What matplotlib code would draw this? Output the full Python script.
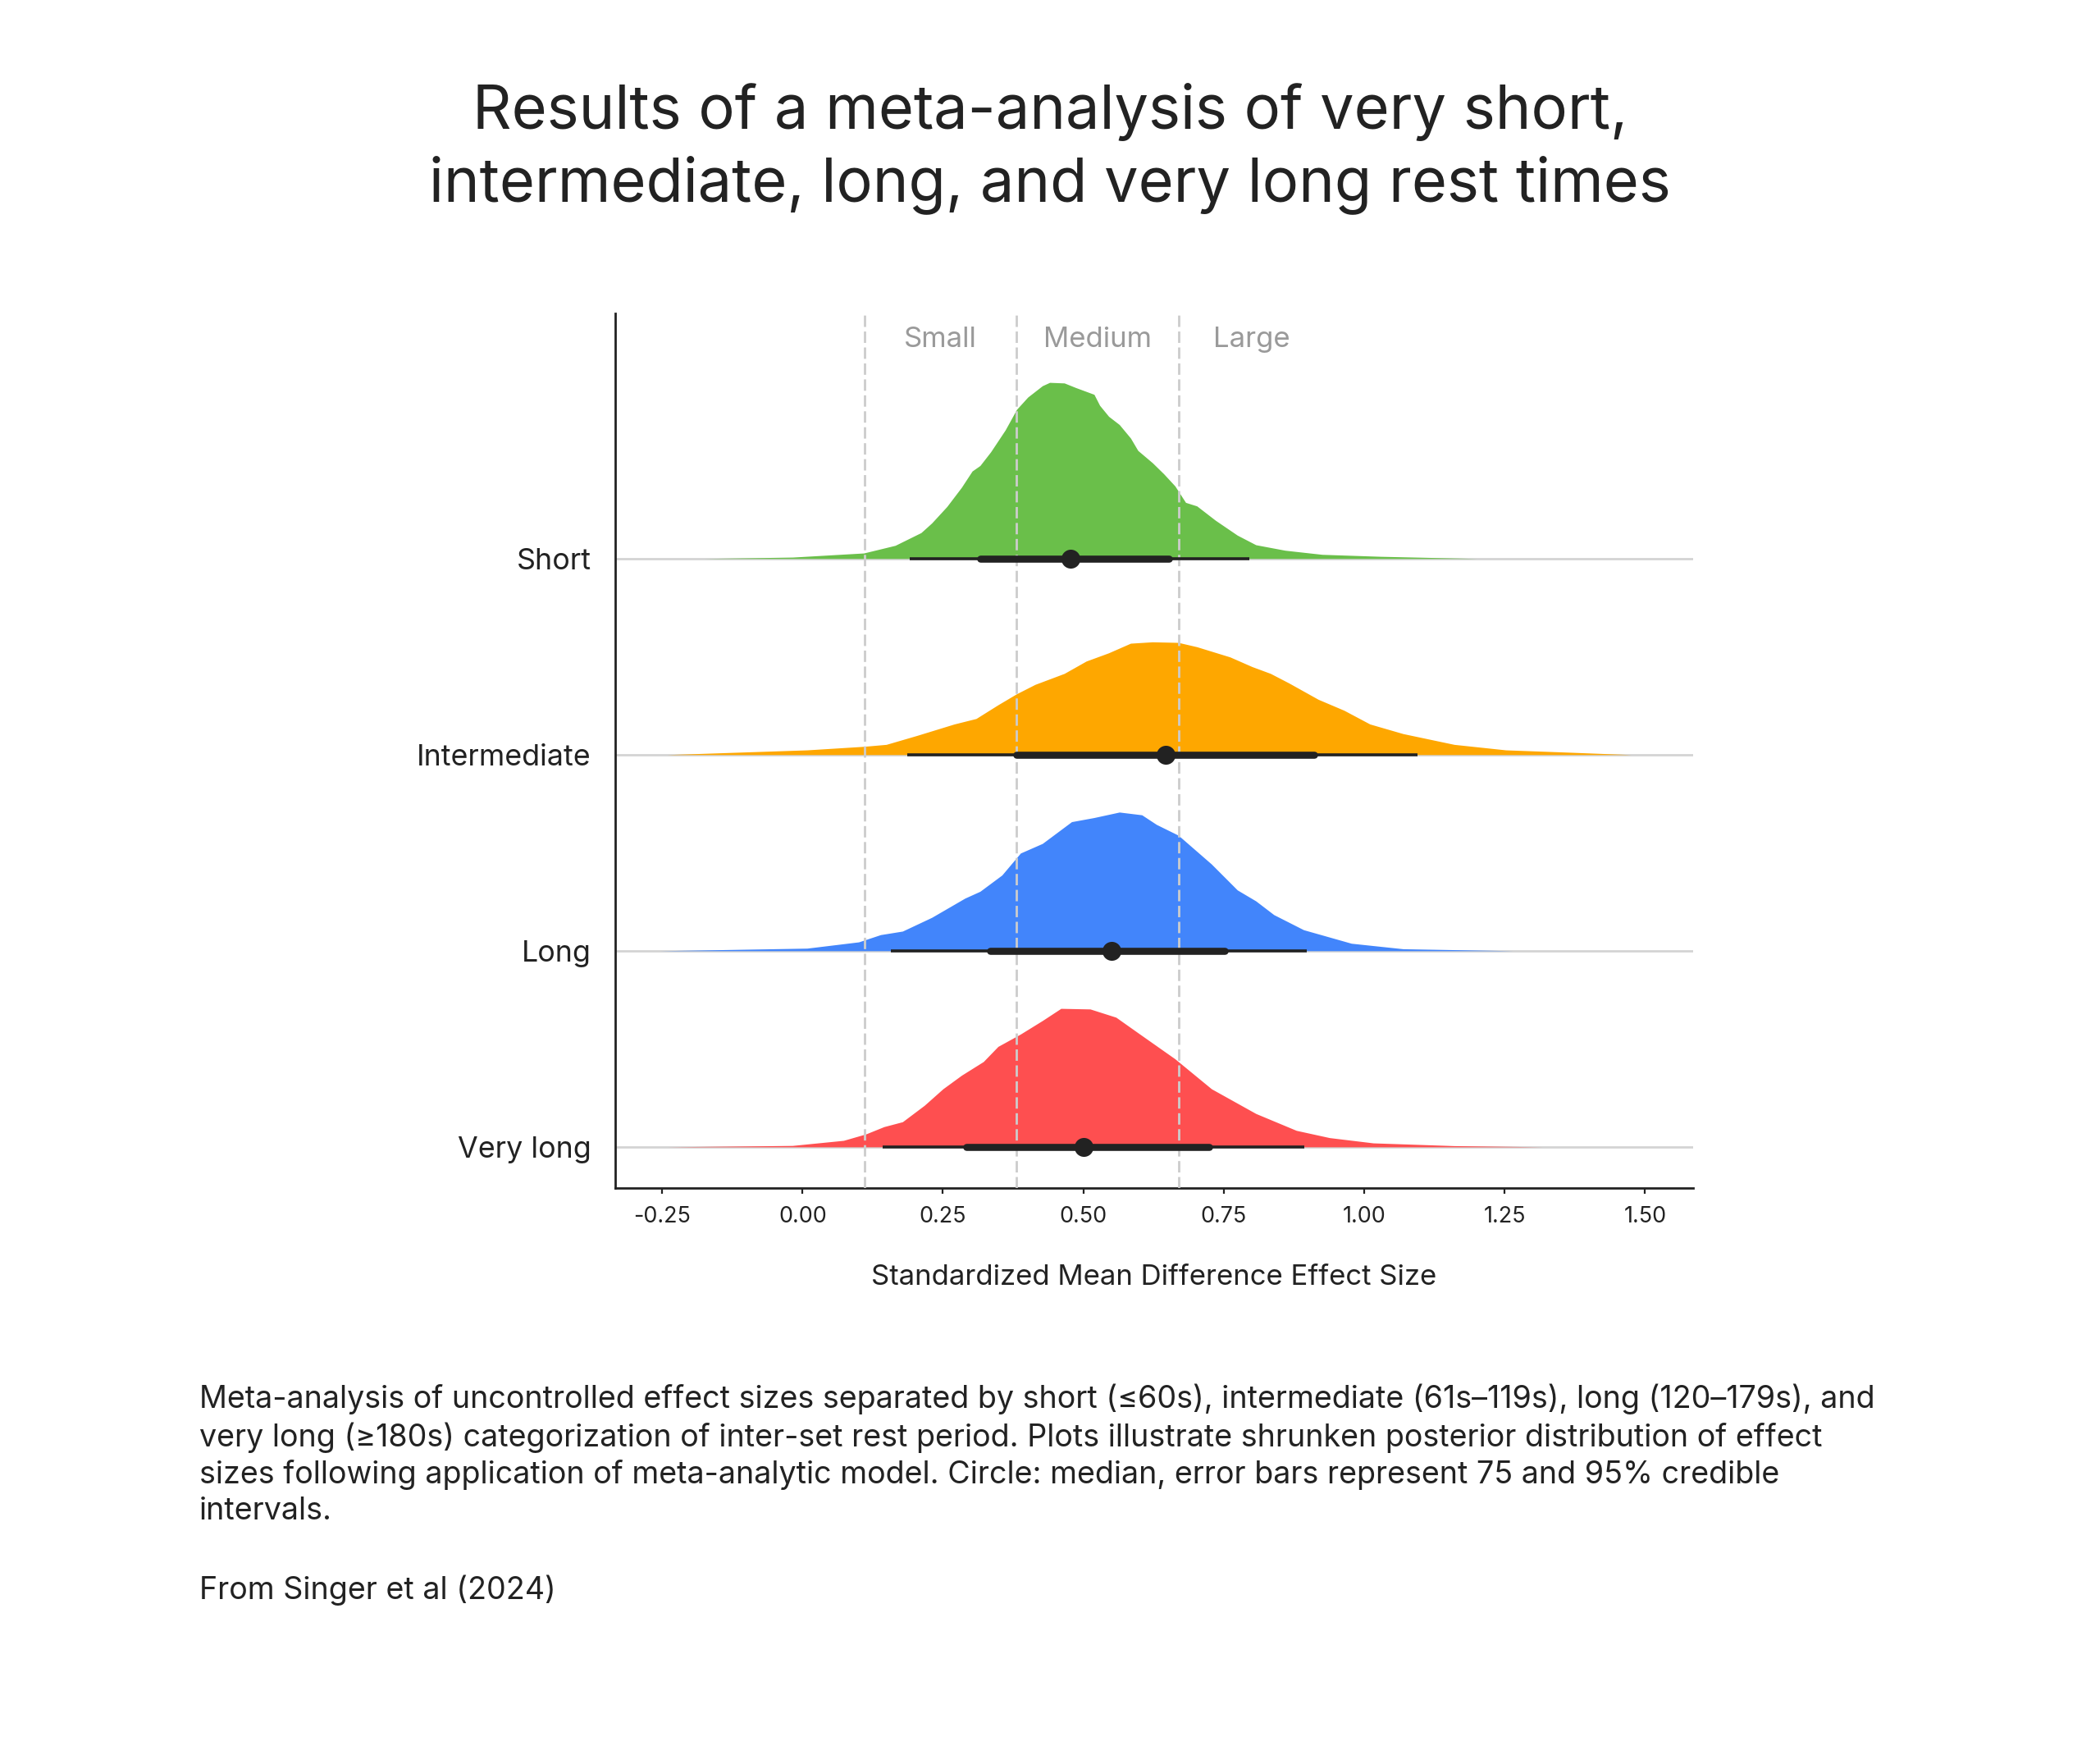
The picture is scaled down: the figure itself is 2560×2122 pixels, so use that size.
import matplotlib
matplotlib.use("Agg")
import matplotlib.pyplot as plt

plt.rcParams['font.family'] = ['Inter', 'DejaVu Sans']

# ---------------- data ----------------
categories = ["Very long", "Long", "Intermediate", "Short"]
colors = ["#fe4f50", "#4285fb", "#fea700", "#6abf4a"]

# read-off density outlines (x value, slab height in row units)
short_x = [-0.175, -0.018, 0.109, 0.165, 0.211, 0.230, 0.257, 0.283, 0.302, 0.316, 0.335, 0.361,
           0.381, 0.401, 0.427, 0.440, 0.466, 0.486, 0.519, 0.529, 0.545, 0.564, 0.584, 0.597,
           0.623, 0.643, 0.663, 0.682, 0.702, 0.735, 0.774, 0.807, 0.859, 0.925, 1.029, 1.200]
short_h = [0.0, 0.007, 0.028, 0.067, 0.132, 0.181, 0.265, 0.363, 0.446, 0.474, 0.544, 0.656,
           0.760, 0.823, 0.881, 0.898, 0.895, 0.872, 0.837, 0.781, 0.725, 0.683, 0.614, 0.551,
           0.488, 0.432, 0.370, 0.286, 0.268, 0.195, 0.119, 0.070, 0.042, 0.021, 0.011, 0.0]

inter_x = [-0.241, 0.008, 0.109, 0.149, 0.204, 0.270, 0.309, 0.348, 0.381, 0.414, 0.466, 0.505,
           0.545, 0.584, 0.623, 0.669, 0.702, 0.761, 0.800, 0.833, 0.866, 0.918, 0.964, 1.010,
           1.069, 1.160, 1.252, 1.357, 1.475]
inter_h = [0.0, 0.024, 0.042, 0.052, 0.098, 0.156, 0.184, 0.254, 0.310, 0.358, 0.414, 0.477,
           0.519, 0.568, 0.575, 0.572, 0.550, 0.498, 0.449, 0.414, 0.365, 0.282, 0.226, 0.156,
           0.107, 0.052, 0.024, 0.013, 0.0]

long_x = [-0.254, 0.008, 0.100, 0.139, 0.178, 0.230, 0.289, 0.316, 0.355, 0.388, 0.427, 0.479,
          0.519, 0.564, 0.604, 0.630, 0.669, 0.728, 0.774, 0.807, 0.839, 0.892, 0.977, 1.069, 1.265]
long_h = [0.0, 0.013, 0.045, 0.082, 0.100, 0.170, 0.268, 0.303, 0.386, 0.498, 0.547, 0.658,
          0.679, 0.707, 0.693, 0.644, 0.589, 0.442, 0.310, 0.254, 0.184, 0.107, 0.038, 0.010, 0.0]

vlong_x = [-0.241, -0.018, 0.073, 0.113, 0.145, 0.178, 0.217, 0.250, 0.283, 0.322, 0.348, 0.388,
           0.427, 0.460, 0.512, 0.558, 0.597, 0.663, 0.728, 0.807, 0.879, 0.938, 1.016, 1.160, 1.317]
vlong_h = [0.0, 0.007, 0.033, 0.066, 0.103, 0.128, 0.212, 0.296, 0.365, 0.435, 0.512, 0.575,
           0.644, 0.706, 0.703, 0.661, 0.582, 0.449, 0.296, 0.170, 0.084, 0.047, 0.020, 0.006, 0.0]

dens_x = [vlong_x, long_x, inter_x, short_x]
dens_h = [vlong_h, long_h, inter_h, short_h]

medians = [0.500, 0.550, 0.647, 0.477]
ci75_lo = [0.291, 0.334, 0.381, 0.316]
ci75_hi = [0.724, 0.752, 0.911, 0.653]
ci95_lo = [0.143, 0.158, 0.187, 0.191]
ci95_hi = [0.893, 0.898, 1.095, 0.796]

thresholds = [0.11, 0.38, 0.67]
threshold_labels = ["Small", "Medium", "Large"]
threshold_label_x = [0.245, 0.525, 0.80]

xticks = [-0.25, 0.0, 0.25, 0.5, 0.75, 1.0, 1.25, 1.5]

title = "Results of a meta-analysis of very short,\nintermediate, long, and very long rest times"
caption = ("Meta-analysis of uncontrolled effect sizes separated by short (\u226460s), intermediate (61s\u2013119s), long (120\u2013179s), and\n"
           "very long (\u2265180s) categorization of inter-set rest period. Plots illustrate shrunken posterior distribution of effect\n"
           "sizes following application of meta-analytic model. Circle: median, error bars represent 75 and 95% credible\n"
           "intervals.")
source = "From Singer et al (2024)"

# ---------------- plot ----------------
TXT = "#222222"
fig = plt.figure(figsize=(12.8, 10.61), dpi=200)
ax = fig.add_axes([0.2928, 0.3176, 0.5136, 0.820 - 0.3176])

for i, cat in enumerate(categories):
    ax.axhline(i, color="#d4d4d4", lw=1.0, zorder=1)
    ax.fill_between(dens_x[i], i, [i + h for h in dens_h[i]], color=colors[i], lw=0, zorder=2)
    ax.plot([ci95_lo[i], ci95_hi[i]], [i, i], color=TXT, lw=1.3, solid_capstyle="butt", zorder=4)
    ax.plot([ci75_lo[i], ci75_hi[i]], [i, i], color=TXT, lw=3.1, solid_capstyle="round", zorder=5)
    ax.plot([medians[i]], [i], marker="o", ms=7.3, color=TXT, zorder=6)

for t in thresholds:
    ax.axvline(t, color="#cccccc", lw=1.0, linestyle=(0, (5, 2)), zorder=3)
for lx, lab in zip(threshold_label_x, threshold_labels):
    ax.text(lx, 4.118, lab, ha="center", va="center", fontsize=12.5, color="#9a9a9a")

ax.set_xlim(-0.334, 1.586)
ax.set_ylim(-0.21, 4.25)
ax.set_yticks(range(len(categories)))
ax.set_yticklabels(categories, fontsize=12.9, color=TXT)
ax.tick_params(axis="y", length=0, pad=10.5)
ax.set_xticks(xticks)
ax.set_xticklabels([f"{v:.2f}" for v in xticks], fontsize=9.7, color=TXT)
ax.tick_params(axis="x", length=2.5, width=0.8, color=TXT, pad=5.5)
for s in ["top", "right"]:
    ax.spines[s].set_visible(False)
for s in ["left", "bottom"]:
    ax.spines[s].set_color(TXT)
    ax.spines[s].set_linewidth(1.0)
ax.set_xlabel("Standardized Mean Difference Effect Size", fontsize=12.5, color=TXT, labelpad=16)

fig.text(0.5, 1 - 181 / 2122, title, ha="center", va="center", fontsize=26.6, color=TXT,
         linespacing=1.31)
fig.text(243 / 2560, 1 - 1687 / 2122, caption, ha="left", va="top", fontsize=13.55, color=TXT,
         linespacing=1.29)
fig.text(243 / 2560, 1 - 1938 / 2122, source, ha="left", va="center", fontsize=13.55, color=TXT)

fig.savefig("out.png", dpi=200, facecolor="white")
